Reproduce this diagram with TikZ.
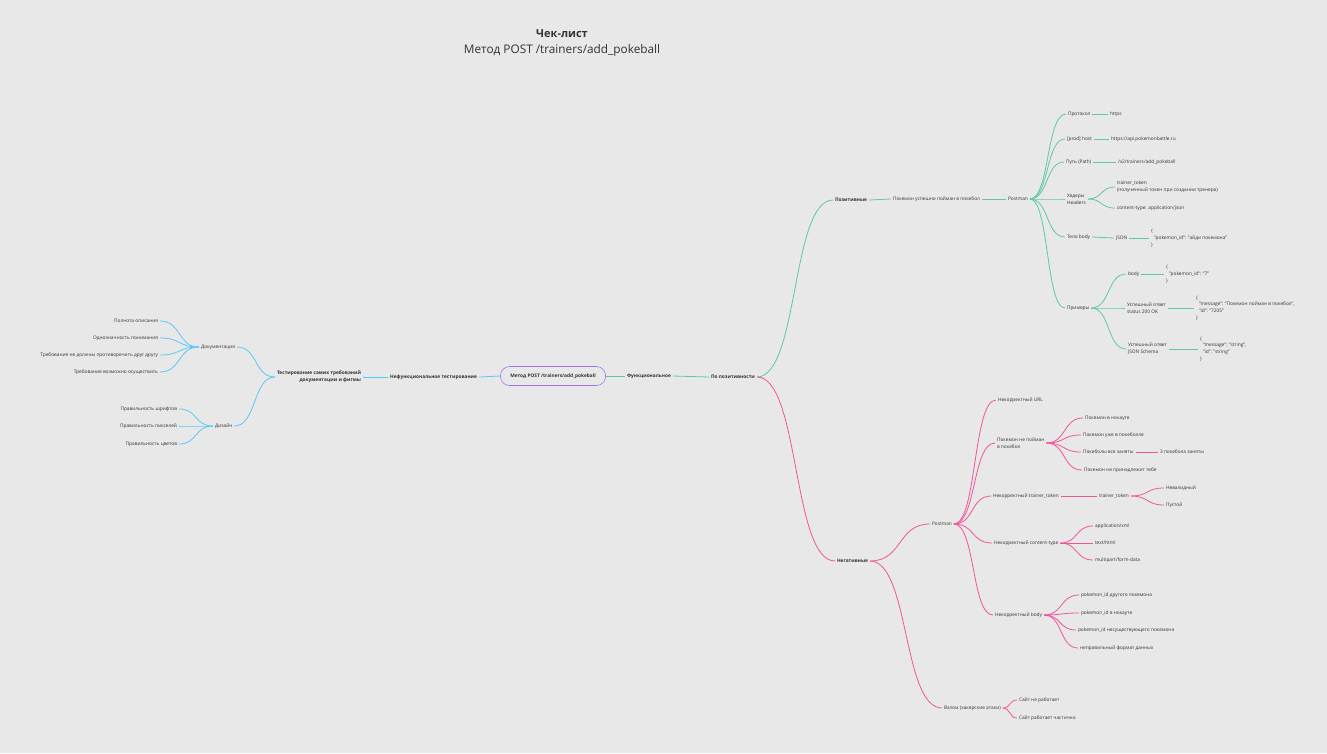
\documentclass[tikz,border=0pt]{standalone}
\usepackage{fontspec}
\setmainfont{Open Sans}
\usetikzlibrary{calc}
\definecolor{bgc}{HTML}{E8E8E8}
\definecolor{txt}{HTML}{333333}
\definecolor{gcol}{HTML}{5FC8A5}
\definecolor{pcol}{HTML}{F0559B}
\definecolor{bcol}{HTML}{5CC9F5}
\definecolor{rcol}{HTML}{A070F0}
\tikzset{
  lbl/.style={font=\fontsize{4.8}{6.8}\selectfont, text=txt, inner sep=1.8pt, align=left},
  blbl/.style={lbl, font=\fontsize{4.8}{6.8}\selectfont\bfseries},
  rt/.style={lbl, anchor=west},
  lt/.style={lbl, anchor=east, align=right},
  rootbox/.style={draw=rcol, line width=0.6pt, rounded corners=9pt, minimum width=105pt,
    minimum height=19pt, font=\fontsize{4.8}{6.8}\selectfont\bfseries, text=txt},
  gl/.style={draw=gcol, line width=0.8pt},
  pl/.style={draw=pcol, line width=0.8pt},
  bl/.style={draw=bcol, line width=0.8pt},
  % S-shaped branch with horizontal ends, handles at half the horizontal gap
  cv/.style={to path={let \p1=(\tikztostart), \p2=(\tikztotarget), \n1={0.55*(\x2-\x1)} in
    .. controls ([xshift=\n1]\tikztostart) and ([xshift=-\n1]\tikztotarget) .. (\tikztotarget)}},
  cvl/.style={cv}
}
\begin{document}
\begin{tikzpicture}[x=1pt, y=-1pt]
\fill[bgc] (0,0) rectangle (1327,753);
\useasboundingbox (0,0) rectangle (1327,753);

% heading
\node[font=\fontsize{11}{13}\selectfont\bfseries, text=txt] (title) at (562,34) {Чек-лист};
\node[font=\fontsize{11.8}{13}\selectfont, text=txt] (subtitle) at (562,50) {Метод POST /trainers/add\_pokeball};

% root
\node[rootbox] (root) at (553,376) {Метод POST /trainers/add\_pokeball};

% ---------- functional branch ----------
\node[blbl, anchor=west] (func) at (625,376) {Функциональное};
\node[blbl, anchor=west] (bypos) at (709,377) {По позитивности};
\node[blbl, anchor=west] (pos) at (833,200) {Позитивные};
\node[blbl, anchor=west] (neg) at (835,561) {Негативные};

\draw[gl] (root.east) -- (func.west);
\draw[gl] (func.east) -- (bypos.west);
\draw[gl] (bypos.east) to[cv] (pos.west);
\draw[pl] (bypos.east) to[cv] (neg.west);

% positive cases
\node[rt] (catch) at (891,199) {Покемон успешно пойман в покебол};
\node[rt] (pmg) at (1006,199) {Postman};
\node[rt] (proto) at (1066,114) {Протокол};
\node[rt] (protov) at (1108,114) {https};
\node[rt] (host) at (1065,139) {[prod] host};
\node[rt] (hostv) at (1109,139) {https://api.pokemonbattle.ru};
\node[rt] (path) at (1064,162) {Путь (Path)};
\node[rt] (pathv) at (1116,162) {/v2/trainers/add\_pokeball};
\node[rt] (hdr) at (1065,199) {Хедеры\\Headers};
\node[rt] (tok) at (1115,187) {trainer\_token\\(полученный токен при создании тренера)};
\node[rt] (ctype) at (1115,208) {content-type: application/json};
\node[rt] (bodyb) at (1065,237) {Тело body};
\node[rt] (json) at (1114,238) {JSON};
\node[rt] (jsonv) at (1149,238) {\{\\\hspace{3pt}"pokemon\_id": "айди покемона"\\\}};
\node[rt] (ex) at (1065,308) {Примеры};
\node[rt] (exb) at (1126,274) {body};
\node[rt] (exbv) at (1164,274) {\{\\\hspace{3pt}"pokemon\_id": "7"\\\}};
\node[rt] (ok) at (1125,308) {Успешный ответ\\status 200 OK};
\node[rt] (okv) at (1194,308) {\{\\\hspace{3pt}"message": "Покемон пойман в покебол",\\\hspace{3pt}"id": "7205"\\\}};
\node[rt] (sch) at (1126,349) {Успешный ответ\\JSON Schema};
\node[rt] (schv) at (1198,349) {\{\\\hspace{3pt}"message": "string",\\\hspace{3pt}"id": "string"\\\}};

\draw[gl] (pos.east) -- (catch.west);
\draw[gl] (catch.east) -- (pmg.west);
\foreach \c in {proto,host,path,hdr,bodyb,ex} \draw[gl] (pmg.east) to[cv] (\c.west);
\draw[gl] (proto.east) -- (protov.west);
\draw[gl] (host.east) -- (hostv.west);
\draw[gl] (path.east) -- (pathv.west);
\draw[gl] (hdr.east) to[cv] (tok.west);
\draw[gl] (hdr.east) to[cv] (ctype.west);
\draw[gl] (bodyb.east) -- (json.west);
\draw[gl] (json.east) -- (jsonv.west);
\foreach \c in {exb,ok,sch} \draw[gl] (ex.east) to[cv] (\c.west);
\draw[gl] (exb.east) -- (exbv.west);
\draw[gl] (ok.east) -- (okv.west);
\draw[gl] (sch.east) -- (schv.west);

% negative cases
\node[rt] (pmp) at (930,524) {Postman};
\node[rt] (hack) at (942,708) {Взлом (хакерские атаки)};
\node[rt] (down) at (1017,700) {Сайт не работает};
\node[rt] (part) at (1017,718) {Сайт работает частично};
\node[rt] (url) at (996,400) {Некорректный URL};
\node[rt] (notc) at (995,443) {Покемон не пойман\\в покебол};
\node[rt] (ko) at (1083,418) {Покемон в нокауте};
\node[rt] (already) at (1081,435) {Покемон уже в покеболле};
\node[rt] (full) at (1081,452) {Покеболы все заняты};
\node[rt] (full3) at (1158,452) {3 покебола заняты};
\node[rt] (notmine) at (1082,470) {Покемон не принадлежит тебе};
\node[rt] (tt) at (991,496) {Некорректный trainer\_token};
\node[rt] (tt2) at (1097,496) {trainer\_token};
\node[rt] (inval) at (1164,488) {Невалидный};
\node[rt] (empty) at (1164,505) {Пустой};
\node[rt] (cty) at (992,543) {Некорректный content-type};
\node[rt] (xml) at (1093,526) {application/xml};
\node[rt] (html) at (1093,543) {text/html};
\node[rt] (mp) at (1093,560) {multipart/form-data};
\node[rt] (bd) at (993,615) {Некорректный body};
\node[rt] (b1) at (1079,595) {pokemon\_id другого покемона};
\node[rt] (b2) at (1079,613) {pokemon\_id в нокауте};
\node[rt] (b3) at (1076,630) {pokemon\_id несуществующего покемона};
\node[rt] (b4) at (1078,648) {неправильный формат данных};

\draw[pl] (neg.east) to[cv] (pmp.west);
\draw[pl] (neg.east) to[cv] (hack.west);
\draw[pl] (hack.east) to[cv] (down.west);
\draw[pl] (hack.east) to[cv] (part.west);
\foreach \c in {url,notc,tt,cty,bd} \draw[pl] (pmp.east) to[cv] (\c.west);
\foreach \c in {ko,already,full,notmine} \draw[pl] (notc.east) to[cv] (\c.west);
\draw[pl] (full.east) -- (full3.west);
\draw[pl] (tt.east) -- (tt2.west);
\draw[pl] (tt2.east) to[cv] (inval.west);
\draw[pl] (tt2.east) to[cv] (empty.west);
\foreach \c in {xml,html,mp} \draw[pl] (cty.east) to[cv] (\c.west);
\foreach \c in {b1,b2,b3,b4} \draw[pl] (bd.east) to[cv] (\c.west);

% ---------- non-functional branch ----------
\node[blbl, anchor=east] (nf) at (479,377) {Нефункциональное тестирование};
\node[blbl, anchor=east, align=right] (req) at (363,377) {Тестирование самих требований\\документации и фигмы};
\node[rt] (doc) at (199,347) {Документация};
\node[rt] (des) at (213,426) {Дизайн};
\node[lt] (d1) at (160,321) {Полнота описания};
\node[lt] (d2) at (160,338) {Однозначность понимания};
\node[lt] (d3) at (160,355) {Требования не должны противоречить друг другу};
\node[lt] (d4) at (160,372) {Требование возможно осуществить};
\node[lt] (g1) at (179,409) {Правильность шрифтов};
\node[lt] (g2) at (179,426) {Правильность пикселей};
\node[lt] (g3) at (179,444) {Правильность цветов};

\draw[bl] (root.west) -- (nf.east);
\draw[bl] (nf.west) -- (req.east);
\draw[bl] (req.west) to[cvl] (doc.east);
\draw[bl] (req.west) to[cvl] (des.east);
\foreach \c in {d1,d2,d3,d4} \draw[bl] (doc.west) to[cvl] (\c.east);
\foreach \c in {g1,g2,g3} \draw[bl] (des.west) to[cvl] (\c.east);
\end{tikzpicture}
\end{document}
